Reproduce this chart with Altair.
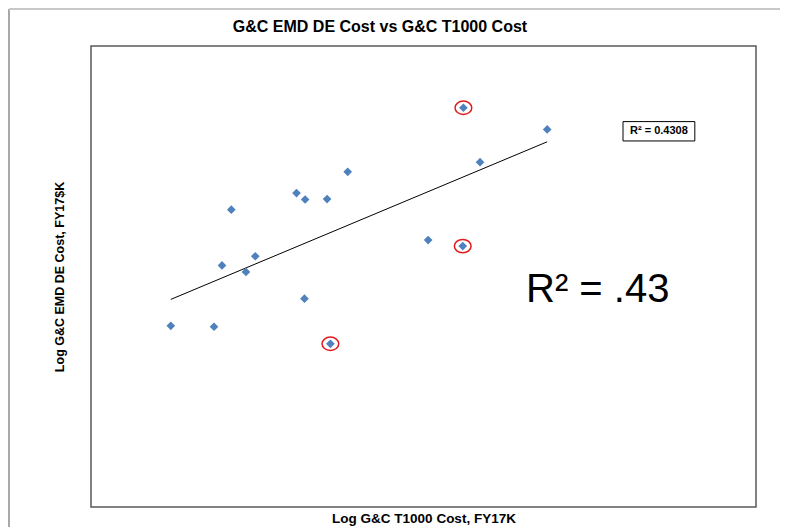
import altair as alt
import pandas as pd

FONT = "Liberation Sans"

# Data (log-scale units, arbitrary 0-10 axes)
x_vals = [1.20, 1.85, 1.97, 2.11, 2.33, 2.47, 3.09, 3.22, 3.21, 3.55, 3.86, 3.60, 5.07, 5.60, 5.59, 5.85, 6.86]
y_vals = [3.93, 3.91, 5.24, 6.45, 5.10, 5.44, 6.81, 6.67, 4.52, 6.68, 7.27, 3.54, 5.79, 8.66, 5.66, 7.48, 8.19]
flagged = [False, False, False, False, False, False, False, False, False, False, False, True, False, True, True, False, False]

# Texts
title_text = "G&C EMD DE Cost vs G&C T1000 Cost"
x_title = "Log G&C T1000 Cost, FY17K"
y_title = "Log G&C EMD DE Cost, FY17$K"

# Annotations
r2_label = ["R² = 0.4308"]
r2_pos_x = [8.54]
r2_pos_y = [8.16]
r2_box_x = [8.0]
r2_box_x2 = [9.08]
r2_box_y = [8.36]
r2_box_y2 = [7.94]
big_label = ["R² = .43"]
big_pos_x = [7.62]
big_pos_y = [4.70]

df = pd.DataFrame({"x": x_vals, "y": y_vals, "flag": flagged})
ann_small = pd.DataFrame({"label": r2_label, "x": r2_pos_x, "y": r2_pos_y,
                          "bx": r2_box_x, "bx2": r2_box_x2, "by": r2_box_y, "by2": r2_box_y2})
ann_big = pd.DataFrame({"label": big_label, "x": big_pos_x, "y": big_pos_y})
dummy = pd.DataFrame({"a": [0]})

xs = alt.Scale(domain=[0, 10], nice=False, zero=False)
ys = alt.Scale(domain=[0, 10], nice=False, zero=False)
xax = alt.Axis(title=x_title, labels=False, ticks=False, domain=False, grid=False,
               titleFont=FONT, titleFontSize=13.5, titleFontWeight="bold", titleColor="black", titlePadding=4)
yax = alt.Axis(title=y_title, labels=False, ticks=False, domain=False, grid=False,
               titleFont=FONT, titleFontSize=12.5, titleFontWeight="bold", titleColor="black", titlePadding=25)

X = alt.X("x:Q", scale=xs, axis=xax)
Y = alt.Y("y:Q", scale=ys, axis=yax)

frame_left = alt.Chart(dummy).mark_rule(stroke="#8C8C8C", strokeWidth=1.5).encode(
    x=alt.value(-82), y=alt.value(-37), y2=alt.value(900))
frame_top = alt.Chart(dummy).mark_rule(stroke="#C8C8C8", strokeWidth=2).encode(
    x=alt.value(-82), x2=alt.value(1000), y=alt.value(-37))

title_mark = alt.Chart(dummy).mark_text(text=title_text, font=FONT, fontSize=16, fontWeight="bold",
                                        color="black", align="center", baseline="middle").encode(
    x=alt.value(289), y=alt.value(-19))

points = alt.Chart(df).mark_point(shape="diamond", filled=True, size=75, color="#4F81BD", opacity=1).encode(x=X, y=Y)

trend = alt.Chart(df).transform_regression("x", "y").mark_line(color="black", strokeWidth=1).encode(x=X, y=Y)

ellipse = "M -1 0 A 1 0.8 0 1 0 1 0 A 1 0.8 0 1 0 -1 0 Z"
circles = alt.Chart(df).transform_filter("datum.flag").mark_point(
    shape=ellipse, size=280, filled=False, color="#E31A1C", strokeWidth=1.5, opacity=1).encode(x=X, y=Y)

box = alt.Chart(ann_small).mark_rect(filled=False, stroke="black", strokeWidth=1).encode(
    x=alt.X("bx:Q", scale=xs, axis=xax), x2="bx2:Q", y=alt.Y("by:Q", scale=ys, axis=yax), y2="by2:Q")
small_text = alt.Chart(ann_small).mark_text(font=FONT, fontSize=11, fontWeight="bold", color="black").encode(
    x=X, y=Y, text="label:N")
big_text = alt.Chart(ann_big).mark_text(font=FONT, fontSize=40, color="black").encode(
    x=X, y=Y, text="label:N")

chart = alt.layer(frame_left, frame_top, title_mark, trend, points, circles, box, small_text, big_text).properties(
    width=665, height=461,
    padding={"left": 83, "top": 38, "right": 24, "bottom": 20},
    autosize="none",
).configure_view(stroke="#595959", strokeWidth=1.5)

chart.save("out.html", embed_options={"renderer": "svg", "actions": False})
